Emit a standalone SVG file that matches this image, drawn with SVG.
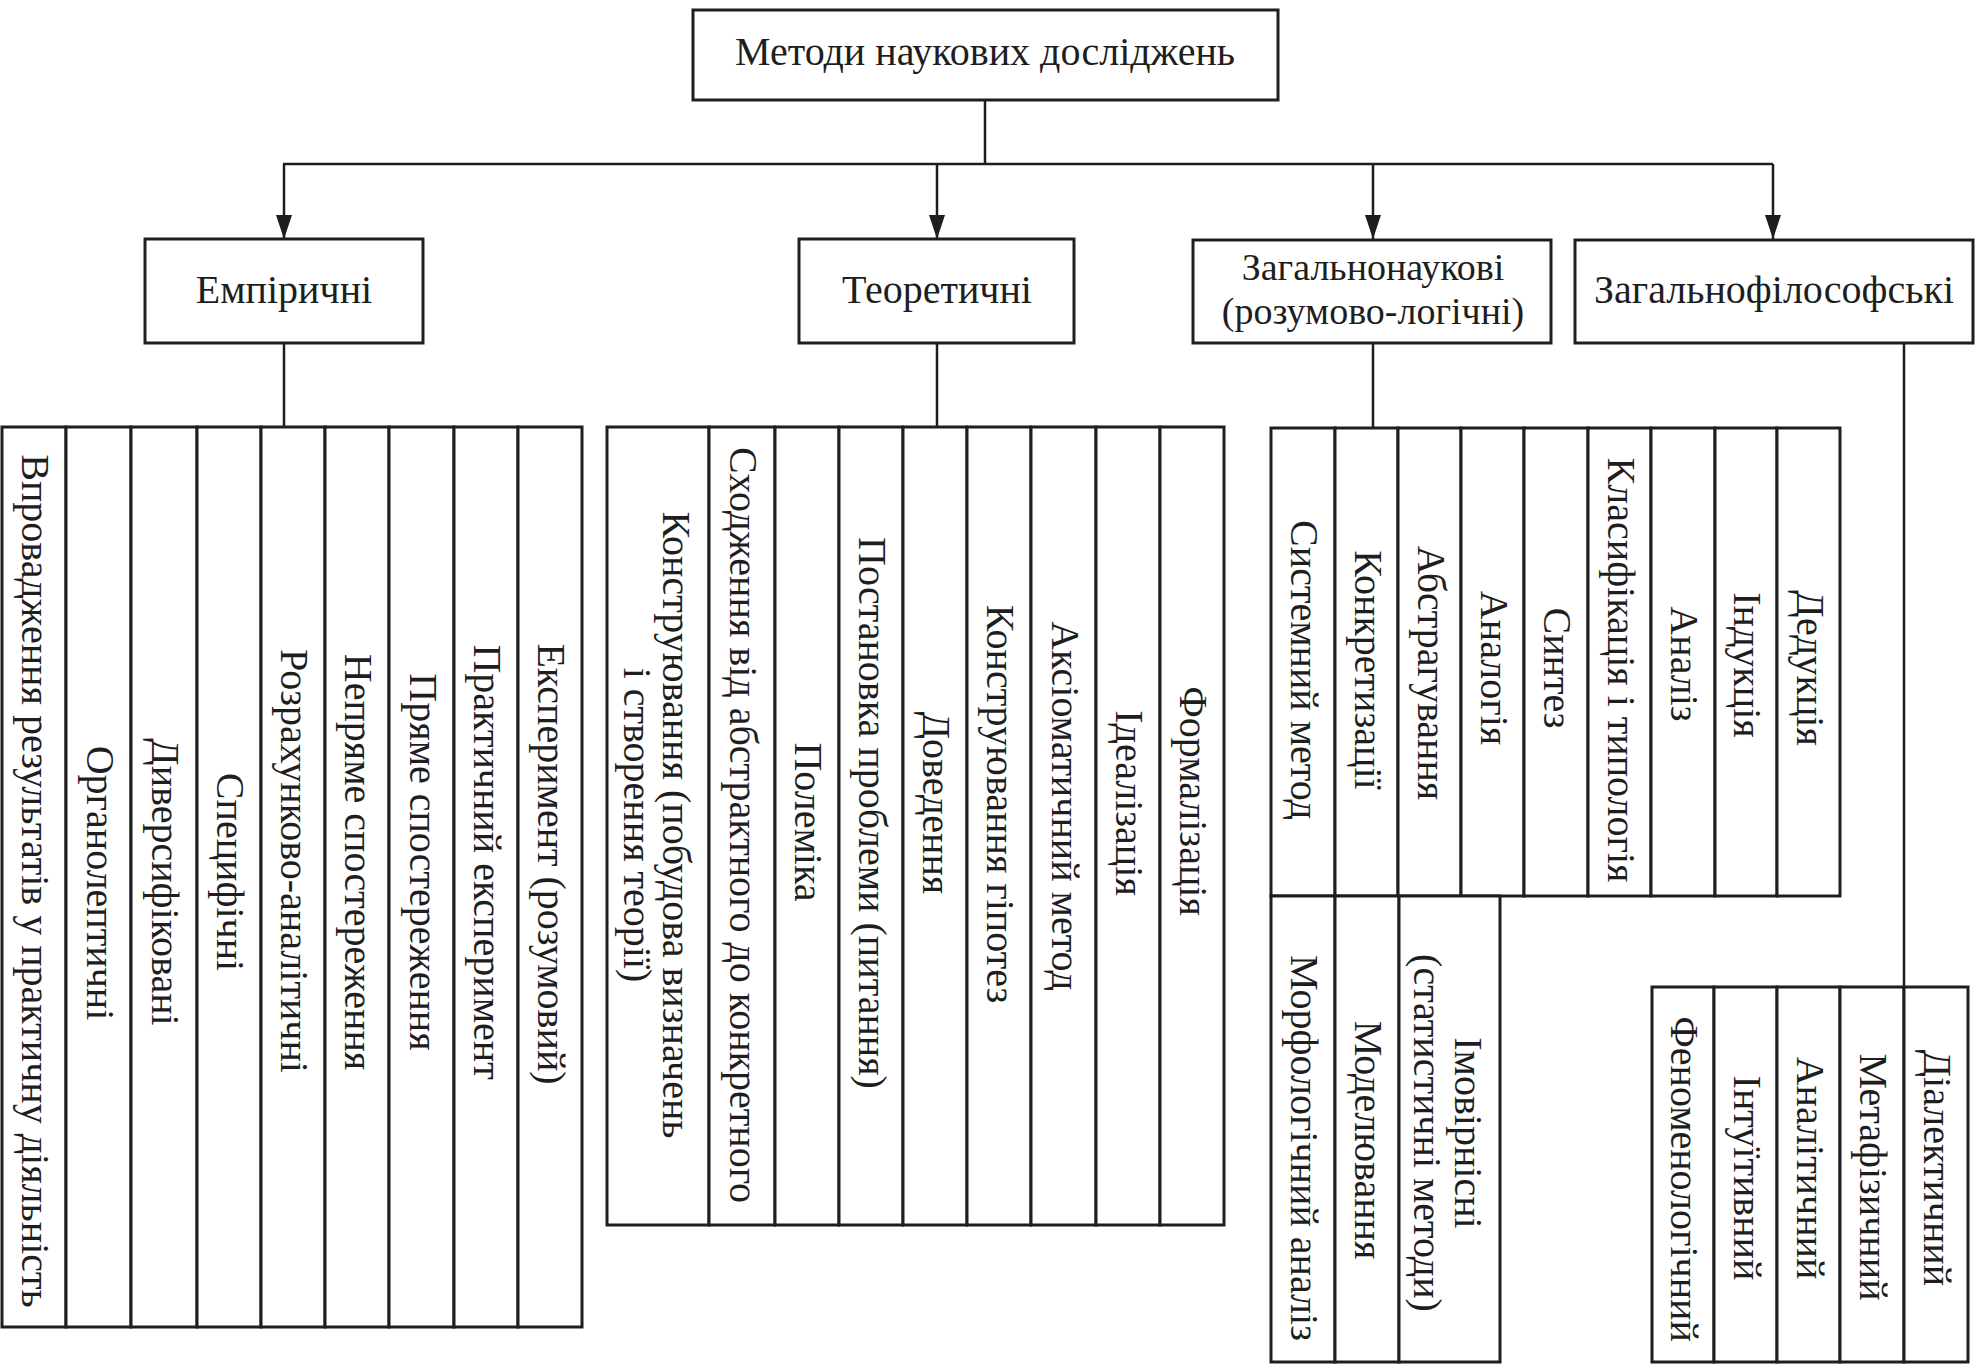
<svg xmlns="http://www.w3.org/2000/svg" width="1985" height="1369" viewBox="0 0 1985 1369">
<style>
.bg{fill:#ffffff}
.box{fill:#ffffff;stroke:#1e1e1e;stroke-width:3}
.cell{fill:#ffffff;stroke:#1e1e1e;stroke-width:3}
.t{font-family:"Liberation Serif","Times New Roman",serif;font-size:40px;fill:#1e1e1e;text-anchor:middle}
.t2{font-size:38px}
.conn{stroke:#1e1e1e;stroke-width:2.5;fill:none}
</style>
<defs>
<marker id="arr" viewBox="0 0 24 16" refX="24" refY="8" markerWidth="24" markerHeight="16" markerUnits="userSpaceOnUse" orient="auto">
<path d="M0,0 L24,8 L0,16 z" fill="#1e1e1e"/>
</marker>
</defs>
<rect class="bg" x="0" y="0" width="1985" height="1369"/>

<g id="connectors">
<path class="conn" d="M985,100 V164 M283,164 H1773"/>
<path class="conn" d="M284,164 V239" marker-end="url(#arr)"/>
<path class="conn" d="M937,164 V239" marker-end="url(#arr)"/>
<path class="conn" d="M1373,164 V239" marker-end="url(#arr)"/>
<path class="conn" d="M1773,164 V239" marker-end="url(#arr)"/>
<path class="conn" d="M284,343 V427 M937,343 V427 M1373,343 V428 M1904,343 V987"/>
</g>

<g id="root">
<rect class="box" x="693" y="10" width="585" height="90"/>
<text class="t" x="985" y="65">Методи наукових досліджень</text>
</g>

<g id="empirical">
<rect class="box" x="145" y="239" width="278" height="104"/>
<text class="t" x="284" y="303">Емпіричні</text>
</g>
<g id="theoretical">
<rect class="box" x="799" y="239" width="275" height="104"/>
<text class="t" x="937" y="303">Теоретичні</text>
</g>
<g id="general-science">
<rect class="box" x="1193" y="240" width="358" height="103"/>
<text class="t t2" x="1373" y="280">Загальнонаукові</text>
<text class="t t2" x="1373" y="324">(розумово-логічні)</text>
</g>
<g id="general-philosophy">
<rect class="box" x="1575" y="240" width="398" height="103"/>
<text class="t" x="1774" y="303">Загальнофілософські</text>
</g>

<!-- Empirical table -->
<g id="e1"><rect class="cell" x="2" y="427" width="64" height="900"/><text class="t" transform="translate(34,881) rotate(90)" y="12">Впровадження результатів у практичну діяльність</text></g>
<g id="e2"><rect class="cell" x="66" y="427" width="65" height="900"/><text class="t" transform="translate(98.5,883) rotate(90)" y="12">Органолептичні</text></g>
<g id="e3"><rect class="cell" x="131" y="427" width="66" height="900"/><text class="t" transform="translate(164,882) rotate(90)" y="12">Диверсифіковані</text></g>
<g id="e4"><rect class="cell" x="197" y="427" width="64" height="900"/><text class="t" transform="translate(229,872) rotate(90)" y="12">Специфічні</text></g>
<g id="e5"><rect class="cell" x="261" y="427" width="64" height="900"/><text class="t" transform="translate(293,861) rotate(90)" y="12">Розрахунково-аналітичні</text></g>
<g id="e6"><rect class="cell" x="325" y="427" width="64" height="900"/><text class="t" transform="translate(357,862) rotate(90)" y="12">Непряме спостереження</text></g>
<g id="e7"><rect class="cell" x="389" y="427" width="65" height="900"/><text class="t" transform="translate(421.5,862) rotate(90)" y="12">Пряме спостереження</text></g>
<g id="e8"><rect class="cell" x="454" y="427" width="64" height="900"/><text class="t" transform="translate(486,862) rotate(90)" y="12">Практичний експеримент</text></g>
<g id="e9"><rect class="cell" x="518" y="427" width="64" height="900"/><text class="t" transform="translate(550,864) rotate(90)" y="12">Експеримент (розумовий)</text></g>

<!-- Theoretical table -->
<g id="t1"><rect class="cell" x="607" y="427" width="102" height="798"/><text class="t" transform="translate(658,825) rotate(90)"><tspan x="0" y="-5">Конструювання (побудова визначень</tspan><tspan x="0" y="34">і створення теорії)</tspan></text></g>
<g id="t2"><rect class="cell" x="709" y="427" width="66" height="798"/><text class="t" transform="translate(742,825) rotate(90)" y="12">Сходження від абстрактного до конкретного</text></g>
<g id="t3"><rect class="cell" x="775" y="427" width="64" height="798"/><text class="t" transform="translate(807,822) rotate(90)" y="12">Полеміка</text></g>
<g id="t4"><rect class="cell" x="839" y="427" width="64" height="798"/><text class="t" transform="translate(871,813) rotate(90)" y="12">Постановка проблеми (питання)</text></g>
<g id="t5"><rect class="cell" x="903" y="427" width="64" height="798"/><text class="t" transform="translate(935,803) rotate(90)" y="12">Доведення</text></g>
<g id="t6"><rect class="cell" x="967" y="427" width="64" height="798"/><text class="t" transform="translate(999,804) rotate(90)" y="12">Конструювання гіпотез</text></g>
<g id="t7"><rect class="cell" x="1031" y="427" width="65" height="798"/><text class="t" transform="translate(1063.5,806) rotate(90)" y="12">Аксіоматичний метод</text></g>
<g id="t8"><rect class="cell" x="1096" y="427" width="64" height="798"/><text class="t" transform="translate(1128,803) rotate(90)" y="12">Ідеалізація</text></g>
<g id="t9"><rect class="cell" x="1160" y="427" width="64" height="798"/><text class="t" transform="translate(1192,801) rotate(90)" y="12">Формалізація</text></g>

<!-- General scientific table -->
<g id="g1"><rect class="cell" x="1271" y="428" width="64" height="468"/><text class="t" transform="translate(1303,670) rotate(90)" y="12">Системний метод</text></g>
<g id="g2"><rect class="cell" x="1335" y="428" width="63" height="468"/><text class="t" transform="translate(1366.5,670) rotate(90)" y="12">Конкретизації</text></g>
<g id="g3"><rect class="cell" x="1398" y="428" width="63" height="468"/><text class="t" transform="translate(1429.5,673) rotate(90)" y="12">Абстрагування</text></g>
<g id="g4"><rect class="cell" x="1461" y="428" width="63" height="468"/><text class="t" transform="translate(1492.5,668) rotate(90)" y="12">Аналогія</text></g>
<g id="g5"><rect class="cell" x="1524" y="428" width="64" height="468"/><text class="t" transform="translate(1556,668) rotate(90)" y="12">Синтез</text></g>
<g id="g6"><rect class="cell" x="1588" y="428" width="63" height="468"/><text class="t" transform="translate(1619.5,670) rotate(90)" y="12">Класифікація і типологія</text></g>
<g id="g7"><rect class="cell" x="1651" y="428" width="64" height="468"/><text class="t" transform="translate(1683,664) rotate(90)" y="12">Аналіз</text></g>
<g id="g8"><rect class="cell" x="1715" y="428" width="62" height="468"/><text class="t" transform="translate(1746,665) rotate(90)" y="12">Індукція</text></g>
<g id="g9"><rect class="cell" x="1777" y="428" width="63" height="468"/><text class="t" transform="translate(1808.5,668) rotate(90)" y="12">Дедукція</text></g>
<g id="g10"><rect class="cell" x="1271" y="896" width="64" height="466"/><text class="t" transform="translate(1303,1148) rotate(90)" y="12">Морфологічний аналіз</text></g>
<g id="g11"><rect class="cell" x="1335" y="896" width="64" height="466"/><text class="t" transform="translate(1367,1140) rotate(90)" y="12">Моделювання</text></g>
<g id="g12"><rect class="cell" x="1399" y="896" width="101" height="466"/><text class="t" transform="translate(1449,1133) rotate(90)"><tspan x="0" y="-6">Імовірнісні</tspan><tspan x="0" y="35">(статистичні методи)</tspan></text></g>

<!-- General philosophical table -->
<g id="p1"><rect class="cell" x="1652" y="987" width="62" height="375"/><text class="t" transform="translate(1683,1179) rotate(90)" y="12">Феноменологічний</text></g>
<g id="p2"><rect class="cell" x="1714" y="987" width="63" height="375"/><text class="t" transform="translate(1745.5,1178) rotate(90)" y="12">Інтуїтивний</text></g>
<g id="p3"><rect class="cell" x="1777" y="987" width="63" height="375"/><text class="t" transform="translate(1808.5,1168) rotate(90)" y="12">Аналітичний</text></g>
<g id="p4"><rect class="cell" x="1840" y="987" width="64" height="375"/><text class="t" transform="translate(1872,1177) rotate(90)" y="12">Метафізичний</text></g>
<g id="p5"><rect class="cell" x="1904" y="987" width="64" height="375"/><text class="t" transform="translate(1936,1168) rotate(90)" y="12">Діалектичний</text></g>
</svg>
